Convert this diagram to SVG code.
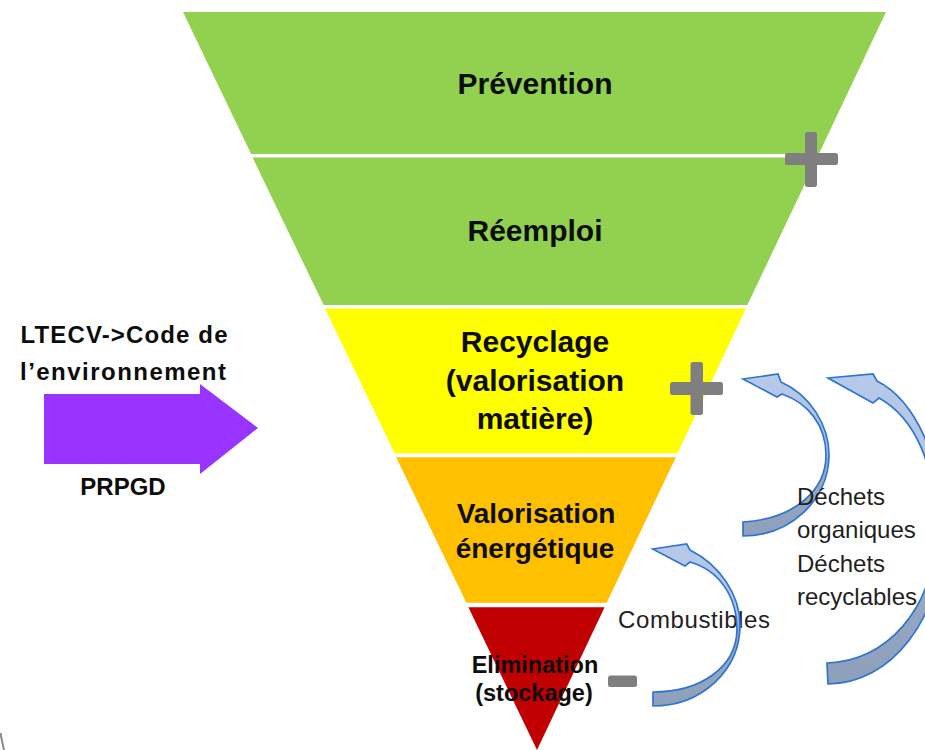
<svg xmlns="http://www.w3.org/2000/svg" width="925" height="750" viewBox="0 0 925 750">
<style>
.lvl{font-family:"Liberation Sans",Arial,sans-serif;font-weight:bold;fill:#0d0d0d;text-anchor:middle}
.side{font-family:"Liberation Sans",Arial,sans-serif;font-weight:bold;fill:#0d0d0d;text-anchor:middle;font-size:24px}
.note{font-family:"Liberation Sans",Arial,sans-serif;fill:#1f1f1f;font-size:24px}
.sign{fill:#7f7f7f}
.curv{stroke:#2f74d0;stroke-width:1.7;stroke-linejoin:miter;fill:url(#blueg)}
</style>
<defs>
<linearGradient id="blueg" x1="0" y1="0" x2="0" y2="1">
<stop offset="0" stop-color="#b6c9e9"/>
<stop offset="0.47" stop-color="#b0c3e3"/>
<stop offset="0.53" stop-color="#9badc9"/>
<stop offset="1" stop-color="#8d9fba"/>
</linearGradient>
</defs>
<rect width="925" height="750" fill="#ffffff"/>
<path d="M0.5,733 Q2,742 4,750" stroke="#8a8a8a" stroke-width="2" fill="none"/>

<g id="prevention">
<polygon points="183,12 886,12 818.8,154 251.1,154" fill="#92d050"/>
<text class="lvl" x="535" y="94" font-size="30">Prévention</text>
</g>
<g id="reemploi">
<polygon points="252.6,157.5 817.4,157.5 747.4,305 323.6,305" fill="#92d050"/>
<text class="lvl" x="535" y="241" font-size="30">Réemploi</text>
</g>
<g id="recyclage">
<polygon points="325,308.5 746,308.5 677.5,453.3 394.6,453.3" fill="#ffff00"/>
<text class="lvl" x="535" y="352" font-size="30">Recyclage</text>
<text class="lvl" x="535" y="391" font-size="30">(valorisation</text>
<text class="lvl" x="535" y="429" font-size="30">matière)</text>
</g>
<g id="valorisation">
<polygon points="396.2,457.3 675.8,457.3 606.7,602.8 466.4,602.8" fill="#ffc000"/>
<text class="lvl" x="536" y="523" font-size="28">Valorisation</text>
<text class="lvl" x="535" y="558" font-size="28">énergétique</text>
</g>
<g id="elimination">
<polygon points="468.4,607.3 604.6,607.3 537,750" fill="#c00000"/>
<text class="lvl" x="535" y="673" font-size="23.5">Elimination</text>
<text class="lvl" x="534" y="701" font-size="23.5">(stockage)</text>
</g>

<g id="plus1" class="sign">
<rect x="785" y="153" width="53" height="12" rx="2.5"/>
<rect x="805" y="132" width="12" height="55" rx="2.5"/>
</g>
<g id="plus2" class="sign">
<rect x="670" y="382" width="53" height="13" rx="2.5"/>
<rect x="690.5" y="362" width="12.5" height="53" rx="2.5"/>
</g>
<g id="minus" class="sign">
<rect x="608" y="675.5" width="29" height="11.5" rx="2.5"/>
</g>

<g id="law-arrow">
<polygon points="44,394 200,394 200,384 258,428 200,474 200,464 44,464" fill="#9933ff"/>
<text class="side" x="124" y="343" textLength="207">LTECV-&gt;Code de</text>
<text class="side" x="123" y="380" textLength="206">l’environnement</text>
<text class="side" x="123" y="495" font-size="25">PRPGD</text>
</g>

<g id="combustibles-label">
<text class="note" x="618" y="628" font-size="25" textLength="152">Combustibles</text>
</g>

<g id="connectors">
<path class="curv" d="M743,379 L778,374 L781,382 C810,395 829,425 829,455 C829,500 790,536 743,536 L743,522 C795,519 826,490 826,455 C826,425 808,403 782,394 L777,397 Z"/>
<path class="curv" d="M828,378 L873,374 L877,381 C915,400 943,460 943,530 C943,620 890,684 828,684 L827,663 C885,662 935,610 936,530 C936,465 915,418 879,398 L873,403 Z"/>
<path class="curv" d="M652.7,549 L686.7,544 L690,550 C720,565 740,595 740,625 C740,670 702,706 653,706 L653,692 C700,692 736,668 737,630 C737,595 718,570 690,562 L685,566 Z"/>
</g>

<g id="dechets-label">
<text class="note" x="797" y="505">Déchets</text>
<text class="note" x="797" y="538">organiques</text>
<text class="note" x="797" y="572">Déchets</text>
<text class="note" x="797" y="605">recyclables</text>
</g>
</svg>
